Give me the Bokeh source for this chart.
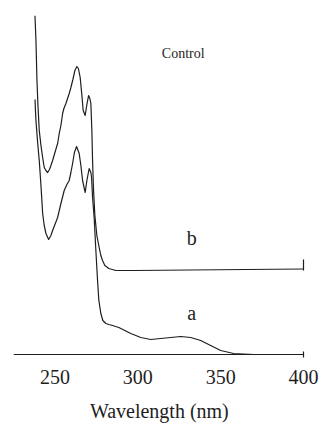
from bokeh.plotting import figure
from bokeh.models import Range1d, Label, Segment, ColumnDataSource
from bokeh.embed import file_html
from bokeh.resources import INLINE

# Curve a (control) — wavelength (nm) and absorbance (arbitrary units)
a_nm = [238.0, 238.25, 238.55, 239.46, 240.54, 241.57, 242.59, 243.55, 244.58, 246.2,
        247.59, 248.61, 250.0, 251.63, 253.61, 255.6, 257.23, 258.61, 259.64, 260.66,
        261.75, 263.07, 264.64, 265.66, 266.69, 268.25, 269.28, 270.66, 271.69, 272.11,
        272.71, 273.67, 274.7, 275.72, 276.51, 277.71, 278.92, 280.72, 282.53, 284.76,
        288.55, 292.17, 295.78, 301.81, 307.83, 313.86, 319.88, 325.9, 331.93, 337.95,
        343.98, 350.0, 357.83, 369.88, 400.0]
a_abs = [2.55, 2.44, 2.34, 2.14, 1.94, 1.69, 1.41, 1.29, 1.21, 1.15,
         1.19, 1.24, 1.30, 1.37, 1.51, 1.64, 1.70, 1.74, 1.82, 1.91,
         2.02, 2.08, 2.01, 1.89, 1.74, 1.62, 1.74, 1.86, 1.82, 1.77,
         1.57, 1.37, 1.04, 0.74, 0.54, 0.41, 0.34, 0.31, 0.30, 0.29,
         0.27, 0.24, 0.21, 0.17, 0.15, 0.16, 0.17, 0.18, 0.17, 0.14,
         0.09, 0.04, 0.01, 0.0, 0.0]

# Curve b (offset trace)
b_nm = [237.95, 238.55, 239.16, 239.76, 240.54, 241.57, 242.59, 243.55, 244.58, 245.6,
        246.69, 247.59, 248.61, 250.0, 251.63, 252.59, 253.61, 254.64, 255.42, 256.63,
        258.61, 259.64, 260.84, 262.05, 263.25, 264.16, 265.24, 266.27, 267.05, 268.25,
        269.28, 270.3, 271.08, 271.69, 272.29, 272.71, 273.31, 274.1, 275.3, 276.69,
        277.71, 278.73, 280.12, 282.53, 286.75, 297.59, 400.0]
b_abs = [3.39, 3.14, 2.74, 2.49, 2.24, 2.09, 1.97, 1.87, 1.84, 1.82,
         1.85, 1.89, 1.94, 2.02, 2.11, 2.21, 2.29, 2.41, 2.46, 2.51,
         2.61, 2.67, 2.75, 2.84, 2.88, 2.86, 2.77, 2.59, 2.44, 2.39,
         2.50, 2.59, 2.56, 2.51, 2.24, 1.94, 1.64, 1.39, 1.19, 1.07,
         0.99, 0.94, 0.89, 0.86, 0.84, 0.84, 0.855]

x_axis_start = 225
x_ticks = [250, 300, 350, 400]
x_tick_labels = ["250", "300", "350", "400"]
x_title = "Wavelength (nm)"

SERIF = "Liberation Serif"
ink = "#1e1e1e"

p = figure(width=321, height=428, output_backend="svg", toolbar_location=None,
           x_range=Range1d(x_axis_start, 410.86), y_range=Range1d(-0.74, 3.39),
           min_border_left=13, min_border_right=0, min_border_top=15, min_border_bottom=0)
p.outline_line_color = None
p.xgrid.visible = False
p.ygrid.visible = False
p.xaxis.visible = False
p.yaxis.visible = False
p.background_fill_color = "white"
p.border_fill_color = "white"

p.line(a_nm, a_abs, line_color=ink, line_width=1.2, line_join="round")
p.line(b_nm, b_abs, line_color=ink, line_width=1.2, line_join="round")

# x axis baseline, end tick of axis and end tick of curve b baseline
end = x_ticks[-1]
seg = ColumnDataSource(dict(x0=[x_axis_start, end, end], y0=[0, -0.03, 0.84],
                            x1=[end, end, end], y1=[0, 0.03, 0.95]))
p.add_glyph(seg, Segment(x0="x0", y0="y0", x1="x1", y1="y1", line_color=ink, line_width=1.2))

# serif tick labels and axis title
for t, lab in zip(x_ticks, x_tick_labels):
    p.add_layout(Label(x=t, y=-0.22, text=lab, text_align="center", text_baseline="middle",
                       text_font=SERIF, text_font_size="20px", text_color=ink))
p.add_layout(Label(x=(x_ticks[0] + x_ticks[-1]) / 2 - 12, y=-0.56, text=x_title,
                   text_align="center", text_baseline="middle",
                   text_font=SERIF, text_font_size="20px", text_color=ink))

for txt, x, y, sz in [("Control", 327.4, 3.01, "14px"), ("b", 332.5, 1.17, "20px"), ("a", 332.5, 0.42, "20px")]:
    p.add_layout(Label(x=x, y=y, text=txt, text_align="center", text_baseline="middle",
                       text_font=SERIF, text_font_size=sz, text_color=ink))

open("out.html", "w").write(file_html(p, INLINE))
